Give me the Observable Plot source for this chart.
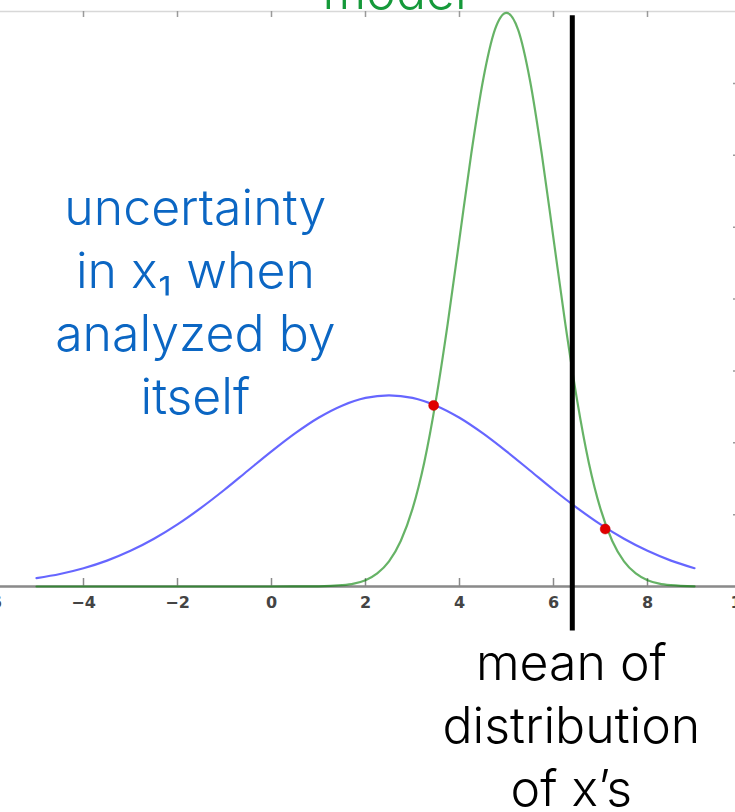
<!DOCTYPE html>
<html>
<head>
<meta charset="utf-8">
<script src="https://cdn.jsdelivr.net/npm/d3@7"></script>
<script src="https://cdn.jsdelivr.net/npm/@observablehq/plot@0.6"></script>
<style>
  html, body { margin: 0; padding: 0; background: white; overflow: hidden; }
  #chart { width: 735px; height: 812px; overflow: hidden; }
</style>
</head>
<body>
<div id="chart"></div>
<script>
// Blue curve: uncertainty in x1 analyzed by itself
const blueX = [-5,-4.5,-4,-3.5,-3,-2.5,-2,-1.5,-1,-0.5,0,0.5,1,1.5,2,2.5,3,3.5,4,4.5,5,5.5,6,6.5,7,7.5,8,8.5,9];
const blueY = [0.0058,0.0087,0.0127,0.0180,0.0248,0.0332,0.0432,0.0547,0.0673,0.0807,0.0940,0.1065,0.1174,0.1258,0.1312,0.1330,0.1312,0.1258,0.1174,0.1065,0.0940,0.0807,0.0673,0.0547,0.0432,0.0332,0.0248,0.0180,0.0127];

// Green curve: model
const greenX = [-5,-4,-3,-2,-1,0,1,1.5,1.75,2,2.25,2.5,2.75,3,3.25,3.5,3.75,4,4.25,4.5,4.75,5,5.25,5.5,5.75,6,6.25,6.5,6.75,7,7.25,7.5,7.75,8,8.25,8.5,9];
const greenY = [0,0,0,0,0,0,0.0001,0.0009,0.002,0.0044,0.0091,0.0175,0.0317,0.054,0.0863,0.130,0.183,0.242,0.301,0.352,0.387,0.399,0.387,0.352,0.301,0.242,0.183,0.130,0.0863,0.054,0.0317,0.0175,0.0091,0.0044,0.002,0.0009,0.0001];

// Red intersection points
const dotX = [3.45, 7.1];
const dotY = [0.126, 0.040];

// Mean of distribution of x's
const meanX = 6.4;
const meanY1 = -0.031;
const meanY2 = 0.397;

// Ticks
const xTicks = [-6,-4,-2,0,2,4,6,8,10];
const xTickLabels = ["\u22126","\u22124","\u22122","0","2","4","6","8","10"];
const yTicks = [0.05,0.1,0.15,0.2,0.25,0.3,0.35];

// Annotations
const labelText = ["model", "uncertainty\nin x\u2081 when\nanalyzed by\nitself", "mean of\ndistribution\nof x\u2019s"];
const labelX = [2.62, -1.62, 6.38];
const labelY = [0.402, 0.1997, -0.0946];
const labelColor = ["#15993a", "#0b66c3", "#000000"];
const labelAnchor = ["bottom", "middle", "middle"];

const blue = blueX.map((x, i) => ({x, y: blueY[i]}));
const green = greenX.map((x, i) => ({x, y: greenY[i]}));
const dots = dotX.map((x, i) => ({x, y: dotY[i]}));
const tickLabels = xTicks.map((x, i) => ({x, t: xTickLabels[i]}));
const labels = labelText.map((t, i) => ({t, x: labelX[i], y: labelY[i], c: labelColor[i], a: labelAnchor[i]}));

const font = "Inter, 'Noto Sans', sans-serif";

const chart = Plot.plot({
  width: 735,
  height: 812,
  marginLeft: -11,
  marginRight: -6,
  marginTop: 11,
  marginBottom: 226,
  x: {domain: [-6, 10], axis: null},
  y: {domain: [0, 0.4], axis: null},
  style: {background: "white", overflow: "hidden"},
  marks: [
    Plot.frame({stroke: "#d8d8d8", strokeWidth: 1.5}),
    Plot.ruleX(xTicks, {insetTop: 567, stroke: "#8a8a8a", strokeWidth: 1.5}),
    Plot.ruleX(xTicks, {insetBottom: 569, stroke: "#9a9a9a", strokeWidth: 1.5}),
    Plot.ruleY(yTicks, {insetLeft: 744, stroke: "#9a9a9a", strokeWidth: 1.5}),
    Plot.ruleY([0], {stroke: "#8a8a8a", strokeWidth: 2.5}),
    Plot.text(tickLabels, {x: "x", text: "t", frameAnchor: "bottom", lineAnchor: "top", dy: 10, fontSize: 16, fill: "#444", fontFamily: "DejaVu Sans", fontWeight: "bold"}),
    Plot.line(green, {x: "x", y: "y", stroke: "#008000", strokeOpacity: 0.6, strokeWidth: 2.2, curve: "monotone-x"}),
    Plot.line(blue, {x: "x", y: "y", stroke: "#0000ff", strokeOpacity: 0.6, strokeWidth: 2.2, curve: "monotone-x"}),
    Plot.ruleX([meanX], {y1: meanY1, y2: meanY2, stroke: "black", strokeWidth: 5}),
    Plot.dot(dots, {x: "x", y: "y", r: 5, fill: "#e00000", stroke: "#c00000", strokeWidth: 0.5}),
    Plot.text(labels.filter(d => d.a === "bottom"), {x: "x", y: "y", text: "t", fill: "c", lineAnchor: "bottom", fontSize: 50, fontFamily: font, fontWeight: 300}),
    Plot.text(labels.filter(d => d.a === "middle"), {x: "x", y: "y", text: "t", fill: "c", lineAnchor: "middle", lineHeight: 1.26, fontSize: 50, fontFamily: font, fontWeight: 300})
  ]
});
chart.style.display = "block";
document.getElementById("chart").appendChild(chart);
</script>
</body>
</html>
